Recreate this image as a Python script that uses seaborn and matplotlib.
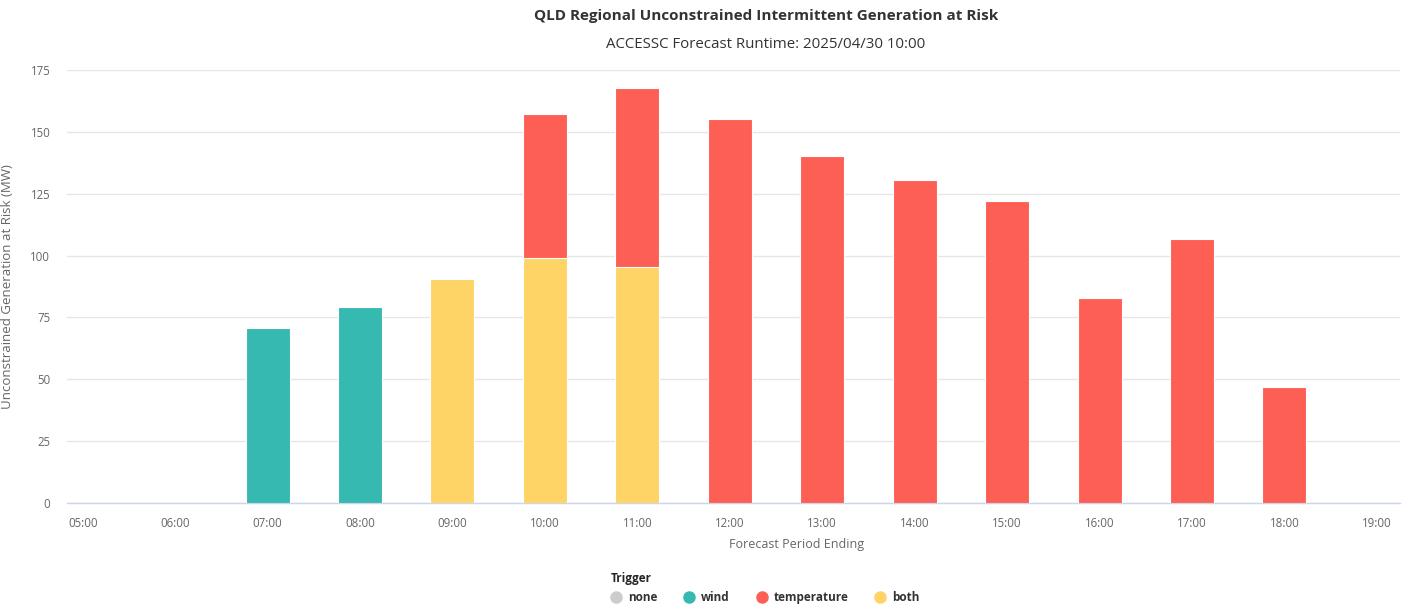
""" QLD regional unconstrained intermittent generation at risk, stacked by trigger. """

###########
# Imports #
###########
import numpy as np
import pandas as pd
import matplotlib
matplotlib.use('Agg')
import matplotlib.pyplot as plt
from matplotlib.lines import Line2D
import seaborn as sns

########
# Data #
########
hours = ['05:00', '06:00', '07:00', '08:00', '09:00', '10:00', '11:00', '12:00',
         '13:00', '14:00', '15:00', '16:00', '17:00', '18:00', '19:00']
wind = [0, 0, 70.7, 79.2, 0, 0, 0, 0, 0, 0, 0, 0, 0, 0, 0]
both = [0, 0, 0, 0, 90.5, 99.0, 95.4, 0, 0, 0, 0, 0, 0, 0, 0]
temperature = [0, 0, 0, 0, 0, 58.2, 72.3, 155.2, 140.3, 130.6, 122.1, 82.9, 106.7, 46.9, 0]

triggers = ['none', 'wind', 'temperature', 'both']
COLORS = {
    'none': '#cccccc',
    'wind': '#35b9b1',
    'temperature': '#fe5f55',
    'both': '#fed466',
}

#################
# Organize data #
#################
df = pd.DataFrame({'hour': hours, 'wind': wind, 'both': both, 'temperature': temperature})
# stack from the bottom: wind / both, then temperature on top
stack_order = ['wind', 'both', 'temperature']
df_cum = df[stack_order].cumsum(axis=1)
df_cum['hour'] = df['hour']
long = df_cum.melt(id_vars='hour', var_name='trigger', value_name='top')
long['value'] = df.melt(id_vars='hour', value_vars=stack_order)['value'].values
long = long[long['value'] > 0]

########
# Plot #
########
W, H = 1403, 607
fig = plt.figure(figsize=(W / 100, H / 100), dpi=100)
sns.set_style('white')
plt.rcParams['font.family'] = ['Open Sans', 'DejaVu Sans']

ax = fig.add_axes([67 / W, 1 - 503 / H, (1400 - 67) / W, (503 - 70) / H])

# draw top layers first so lower segments overlay them
for trig in reversed(stack_order):
    sub = long[long['trigger'] == trig]
    if len(sub) == 0:
        continue
    sns.barplot(data=sub, x='hour', y='top', order=hours, color=COLORS[trig],
                width=0.476, edgecolor='white', linewidth=0.8, errorbar=None,
                saturation=1, ax=ax, zorder=3)

ax.set_ylim(0, 175)
ax.set_xlim(-0.17, 14.25)
ax.set_yticks(np.arange(0, 176, 25))
ax.grid(axis='y', color='#e6e6e6', linewidth=1, zorder=0)
ax.set_axisbelow(True)
for side in ['top', 'right', 'left']:
    ax.spines[side].set_visible(False)
ax.spines['bottom'].set_color('#ccd6eb')
ax.spines['bottom'].set_linewidth(1)
ax.tick_params(axis='x', colors='#ccd6eb', length=7, width=1, labelcolor='#666666',
               labelsize=8.3, pad=3)
ax.tick_params(axis='y', length=0, labelcolor='#666666', labelsize=8.3, pad=12)

ax.set_xlabel('Forecast Period Ending', color='#666666', fontsize=9)
ax.xaxis.set_label_coords((797 - 67) / 1333, -0.081)
ax.set_ylabel('Unconstrained Generation at Risk (MW)', color='#666666', fontsize=9.5)
ax.yaxis.set_label_coords(-0.040, 0.5)

# Titles
fig.text(766 / W, 1 - 16 / H, 'QLD Regional Unconstrained Intermittent Generation at Risk',
         ha='center', va='center', fontsize=11, fontweight='bold', color='#333333')
fig.text(766 / W, 1 - 45 / H, 'ACCESSC Forecast Runtime: 2025/04/30 10:00',
         ha='center', va='center', fontsize=10.8, color='#333333')

# Legend
handles = [Line2D([0], [0], marker='o', linestyle='', markersize=8,
                  markerfacecolor=COLORS[t], markeredgecolor=COLORS[t]) for t in triggers]
leg = fig.legend(handles, triggers, title='Trigger', ncol=4, loc='center',
                 bbox_to_anchor=(765 / W, 1 - 588 / H), frameon=False,
                 fontsize=8.5, title_fontsize=8.5, handletextpad=0.5, columnspacing=2.2,
                 handlelength=1.0)
leg._legend_box.align = 'left'
leg.get_title().set_fontweight('bold')
for txt in leg.get_texts():
    txt.set_fontweight('bold')
    txt.set_color('#333333')

fig.savefig('out.png', dpi=100)
